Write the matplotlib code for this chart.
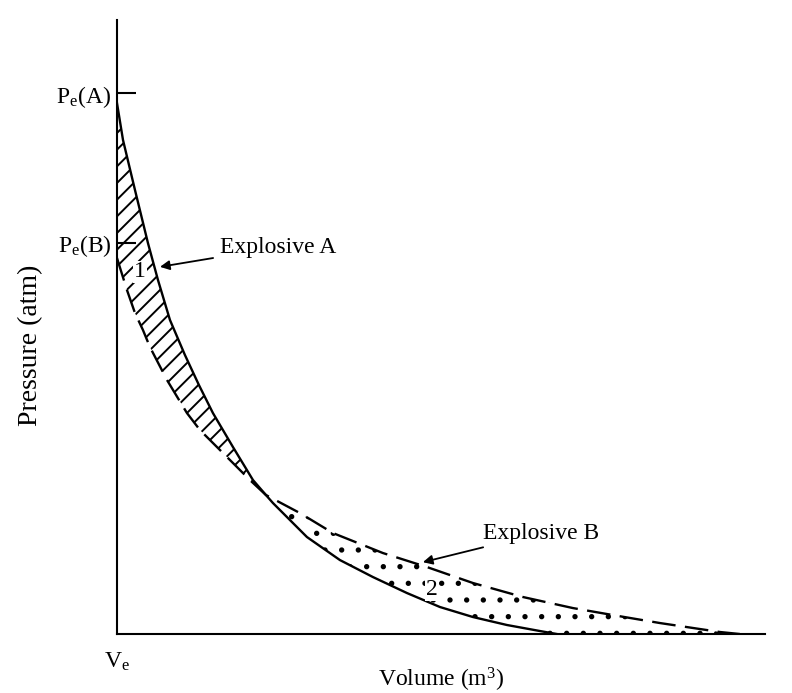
import matplotlib
matplotlib.use('Agg')
import matplotlib.pyplot as plt

plt.rcParams['font.family'] = ['Liberation Serif', 'DejaVu Serif']
plt.rcParams['mathtext.fontset'] = 'custom'
plt.rcParams['mathtext.rm'] = 'Liberation Serif'
plt.rcParams['mathtext.it'] = 'Liberation Serif:italic'
plt.rcParams['hatch.linewidth'] = 1.4

# curva do explosivo A (linha cheia)
vol_a = [0, 0.093, 0.278, 0.478, 0.633, 0.818, 1.049, 1.265, 1.481, 1.79, 2.099,
         2.299, 2.407, 2.932, 3.441, 3.951, 4.475, 4.985, 5.494, 6.019, 6.528, 6.79]
pres_a = [8.648, 8.046, 7.231, 6.368, 5.765, 5.114, 4.544, 4.055, 3.599, 3.046, 2.508,
          2.264, 2.134, 1.58, 1.205, 0.928, 0.668, 0.44, 0.277, 0.147, 0.049, 0.0]

# curva do explosivo B (tracejada)
vol_b = [0, 0.154, 0.278, 0.401, 0.509, 0.772, 1.08, 1.281, 1.543, 1.852, 2.052,
         2.299, 2.824, 3.333, 4.105, 4.784, 5.494, 6.265, 7.037, 7.654, 8.38,
         9.306, 9.614]
pres_b = [6.124, 5.603, 5.228, 4.951, 4.674, 4.137, 3.599, 3.322, 3.046, 2.72, 2.508,
          2.264, 1.97, 1.645, 1.319, 1.091, 0.831, 0.603, 0.423, 0.309, 0.179,
          0.033, 0.0]

ponto_cruz = 2.299
ticks_p = [8.81, 6.37]
ticks_p_labels = [r'P$_\mathrm{e}$(A)', r'P$_\mathrm{e}$(B)']

fig = plt.figure(figsize=(7.92, 6.93), dpi=100)
ax = fig.add_axes([0.1477, 0.0851, 0.818, 0.886])

# regiao 1: entre A (acima) e B (abaixo), ate o cruzamento
ia = vol_a.index(ponto_cruz)
ib = vol_b.index(ponto_cruz)
reg1_x = vol_a[:ia + 1] + vol_b[:ib + 1][::-1]
reg1_y = pres_a[:ia + 1] + pres_b[:ib + 1][::-1]
ax.fill(reg1_x, reg1_y, facecolor='none', edgecolor='black', hatch='//', linewidth=0)

# regiao 2: entre B (acima) e A (abaixo), depois do cruzamento
reg2_x = vol_b[ib:] + vol_a[ia:][::-1]
reg2_y = pres_b[ib:] + pres_a[ia:][::-1]
ax.fill(reg2_x, reg2_y, facecolor='none', edgecolor='black', hatch='.', linewidth=0)

ax.plot(vol_a, pres_a, color='black', lw=1.7)
ax.plot(vol_b, pres_b, color='black', lw=1.7, linestyle=(0, (10, 4)))

ax.set_xlim(0, 10)
ax.set_ylim(0, 10)
for s in ['top', 'right']:
    ax.spines[s].set_visible(False)
for s in ['left', 'bottom']:
    ax.spines[s].set_linewidth(1.5)

ax.set_yticks(ticks_p)
ax.set_yticklabels(ticks_p_labels, fontsize=17)
ax.tick_params(axis='y', direction='in', length=14, width=1.5, pad=4)
ax.set_xticks([0])
ax.set_xticklabels([r'V$_\mathrm{e}$'], fontsize=17)
ax.tick_params(axis='x', length=0, pad=12)

ax.set_xlabel(r'Volume (m$^3$)', fontsize=17, va='center')
ax.xaxis.set_label_coords(0.5, -0.075)
ax.set_ylabel('Pressure (atm)', fontsize=20, va='center')
ax.yaxis.set_label_coords(-0.134, 0.47)

ax.text(0.355, 5.9, '1', fontsize=17, ha='center', va='center',
        bbox=dict(facecolor='white', edgecolor='none', pad=0.5))
ax.text(4.86, 0.72, '2', fontsize=17, ha='center', va='center',
        bbox=dict(facecolor='white', edgecolor='none', pad=0.5))

ax.annotate('Explosive A', xy=(0.664, 5.98), xytext=(1.59, 6.3),
            fontsize=17, va='center', ha='left',
            arrowprops=dict(arrowstyle='-|>', color='black', lw=1.3,
                            shrinkA=3, shrinkB=0, mutation_scale=14))
ax.annotate('Explosive B', xy=(4.722, 1.17), xytext=(5.648, 1.645),
            fontsize=17, va='center', ha='left',
            arrowprops=dict(arrowstyle='-|>', color='black', lw=1.3,
                            shrinkA=3, shrinkB=0, mutation_scale=14))

plt.savefig('out.png', dpi=100)
